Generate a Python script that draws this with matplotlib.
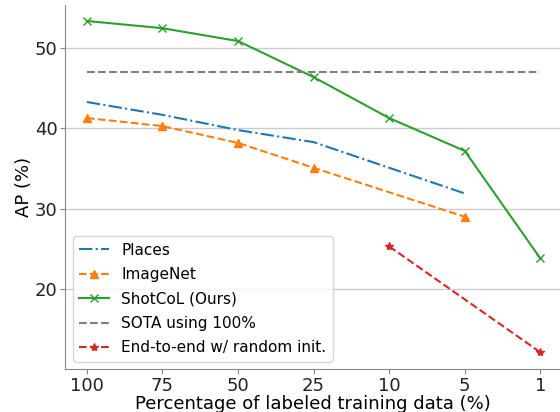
import numpy as np
import matplotlib.pyplot as plt

# x categories (percentage of labeled data)
x_labels = ["100", "75", "50", "25", "10", "5", "1"]

places_idx = [0, 1, 2, 3, 5]
places = [43.3, 41.7, 39.8, 38.3, 31.9]

imagenet_idx = [0, 1, 2, 3, 5]
imagenet = [41.3, 40.3, 38.2, 35.1, 29.0]

shotcol_idx = [0, 1, 2, 3, 4, 5, 6]
shotcol = [53.4, 52.5, 50.9, 46.4, 41.3, 37.2, 23.8]

sota_idx = [0, 6]
sota = [47.1, 47.1]

e2e_idx = [4, 6]
e2e = [25.3, 12.1]

fig = plt.figure(figsize=(5.6, 4.12), dpi=100)
ax = fig.add_axes([0.116, 0.104, 0.884, 0.884])

ax.plot(places_idx, places, '-.', color='tab:blue', label='Places')
ax.plot(imagenet_idx, imagenet, '--', marker='^', color='tab:orange', label='ImageNet')
ax.plot(shotcol_idx, shotcol, '-', marker='x', color='tab:green', label='ShotCoL (Ours)')
ax.plot(sota_idx, sota, '--', color='tab:gray', label='SOTA using 100%')
ax.plot(e2e_idx, e2e, '--', marker='*', color='tab:red', label='End-to-end w/ random init.')

ax.set_xticks(range(len(x_labels)))
ax.set_xticklabels(x_labels)
ax.set_xlim(-0.29, 6.26)
ax.set_ylim(10, 55.4)
ax.set_yticks([20, 30, 40, 50])
ax.tick_params(labelsize=13, colors='#222222', pad=2)
ax.tick_params(axis='both', color='#888888')
ax.yaxis.grid(True, color='#cccccc', linewidth=1)
ax.set_axisbelow(True)
for s in ['top', 'right']:
    ax.spines[s].set_visible(False)
for s in ['left', 'bottom']:
    ax.spines[s].set_color('#888888')

ax.set_xlabel("Percentage of labeled training data (%)", fontsize=13, labelpad=0)
ax.set_ylabel("AP (%)", fontsize=13, labelpad=1)
ax.legend(loc='lower left', fontsize=11, borderaxespad=0.5, labelspacing=0.62)

fig.savefig("out.png", dpi=100)
